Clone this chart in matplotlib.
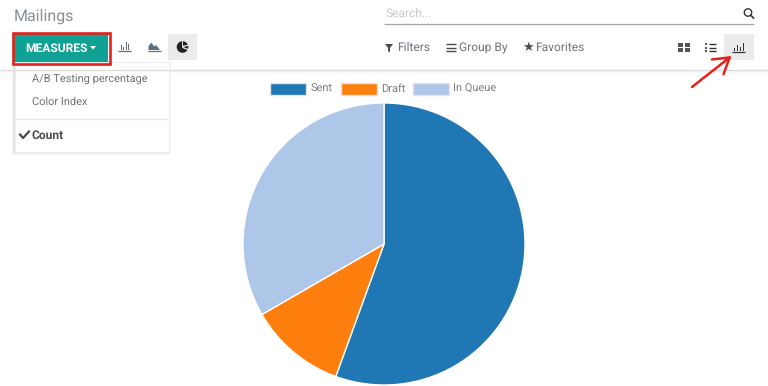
import matplotlib
matplotlib.use('Agg')
import matplotlib.pyplot as plt
from matplotlib.patches import Rectangle, Circle, Polygon, FancyArrowPatch

plt.rcParams['font.family'] = ['Roboto', 'DejaVu Sans']
plt.rcParams['text.hinting'] = 'no_hinting'
plt.rcParams['text.hinting_factor'] = 1

# chart data
labels = ['Sent', 'Draft', 'In Queue']
counts = [5, 1, 3]
colors = ['#1f77b4', '#ff7f0e', '#aec7e8']

# ui text
measures = ['A/B Testing percentage', 'Color Index']

W, H = 768, 386
fig = plt.figure(figsize=(W / 100, H / 100), dpi=100)

# whole figure in pixel coords for the toolbar stuff
ui = fig.add_axes([0, 0, 1, 1])
ui.set_xlim(0, W)
ui.set_ylim(H, 0)
ui.axis('off')


def rect(x0, y0, x1, y1, **kw):
    ui.add_patch(Rectangle((x0, y0), x1 - x0, y1 - y0, **kw))


def hline(x0, x1, y, color, lw=1.0):
    ui.plot([x0, x1], [y, y], color=color, lw=lw, solid_capstyle='butt')


grey = '#6f7479'
dark = '#4c4c4c'

# header
ui.text(14, 20.5, 'Mailings', fontsize=11.3, color='#8a8f94', va='baseline')
ui.text(386, 17, 'Search...', fontsize=8.3, color='#c9c9c9', va='baseline')
hline(384, 754, 23.5, '#a8a8a8', 0.9)
ui.add_patch(Circle((748, 12.5), 3.7, fc='none', ec='#333333', lw=1.0))
ui.plot([750.8, 753.5], [15.3, 18], color='#333333', lw=1.2)

rect(0, 70, W, 73, fc='#f9f9f9', ec='none')
hline(0, W, 69.5, '#dcdcdc', 1.0)

# measures button
rect(12.5, 32.5, 110, 64, fc='none', ec='#e3201c', lw=1.9, zorder=4)
rect(14, 34, 108, 62, fc='#0fa193', ec='none')
ui.text(25.5, 51.5, 'MEASURES', fontsize=8.3, fontweight='bold', color='white', va='baseline')
ui.add_patch(Polygon([[90, 46], [96, 46], [93, 49.5]], fc='white', ec='none'))

# chart type buttons
rect(168, 34, 197, 60, fc='#ebebeb', ec='none')
hline(118, 131, 50.5, '#5f6f7f', 0.9)
for dx, h in zip([2.5, 5, 7.5, 10], [5, 3, 8, 6]):
    rect(118 + dx, 50 - h, 118 + dx + 1.2, 50, fc='#5f6f7f', ec='none')
hline(147.5, 160.5, 50.5, '#5f6f7f', 0.9)
ui.add_patch(Polygon([[148.5, 50], [148.5, 46], [151.5, 42.5], [154, 46.5], [156, 45], [160, 50]],
                     fc='#5f6f7f', ec='none'))
ui.add_patch(Circle((182.5, 47), 5.8, fc='#222222', ec='none'))
ui.plot([183, 189], [46.5, 45], color='#ebebeb', lw=0.9)
ui.plot([183, 189], [47.5, 50], color='#ebebeb', lw=0.9)
ui.plot([182, 182], [41, 46], color='#ebebeb', lw=0.7)

# dropdown with a soft shadow
for i, a in zip([4, 3, 2, 1], [0.012, 0.02, 0.03, 0.04]):
    rect(14 - i * 0.6, 62, 169 + i * 0.6, 152 + i, fc='black', alpha=a, ec='none')
rect(14.5, 62, 168.5, 151.5, fc='white', ec='#ececec', lw=0.6)
for txt, y in zip(measures, [83, 105]):
    ui.text(32, y, txt, fontsize=8.25, color=grey, va='baseline')
hline(15, 168, 118.5, '#e6e6e6', 1.0)
ui.plot([20, 23, 29], [134.5, 138, 131.5], color=dark, lw=1.6)
ui.text(32, 139, 'Count', fontsize=8.4, fontweight='bold', color=dark, va='baseline')

# filters row
ui.add_patch(Polygon([[385, 44], [393, 44], [390, 48], [390, 52.5], [388, 51], [388, 48]],
                     fc=dark, ec='none'))
ui.text(397, 51, 'Filters', fontsize=8.35, color=grey, va='baseline')
for y in [44, 47.5, 51]:
    hline(446, 456, y, dark, 1.0)
ui.text(459, 51, 'Group By', fontsize=8.35, color=grey, va='baseline')
ui.text(522, 47.5, '\u2605', fontsize=9.5, color=dark, va='center', family='DejaVu Sans')
ui.text(535, 51, 'Favorites', fontsize=8.35, color=grey, va='baseline')

# view switcher
rect(724, 34, 754, 60, fc='#ebebeb', ec='none')
for x0 in [678, 684.5]:
    for y0 in [43, 48]:
        rect(x0, y0, x0 + 5, y0 + 4, fc='#555555', ec='none')
for y in [44, 47.5, 51]:
    hline(705, 707, y, '#333333', 1.2)
    hline(708.5, 716, y, '#333333', 1.0)
hline(732, 745, 51.5, '#333333', 0.9)
for dx, h in zip([2, 5, 8, 11], [3, 6, 4, 8]):
    rect(732 + dx, 51 - h, 732 + dx + 1.2, 51, fc='#333333', ec='none')

# red arrow
ui.add_patch(FancyArrowPatch((692, 87), (731.5, 56), arrowstyle='->,head_length=4.2,head_width=2.6',
                             mutation_scale=2.6, color='#e8201c', lw=1.8, shrinkA=0, shrinkB=0, zorder=5))

# legend
for x0, xt, lab, c, fs in zip([270, 341, 413], [311, 381.5, 453], labels, colors, [8.2, 8.2, 8.0]):
    rect(x0, 82.5, x0 + 36, 94.5, fc=c, ec='#e3e3e3', lw=1.0)
    ui.text(xt, 92, lab, fontsize=fs, color='#7f7f7f', va='baseline')

# pie
pie_ax = fig.add_axes([243 / W, 1 - 385 / H, 282 / W, 282 / H])
pie_ax.pie(counts, colors=colors, startangle=90, counterclock=False, radius=1.0,
           wedgeprops={'edgecolor': 'white', 'linewidth': 1.0})
pie_ax.set_xlim(-1, 1)
pie_ax.set_ylim(-1, 1)

fig.savefig('out.png', dpi=100)
